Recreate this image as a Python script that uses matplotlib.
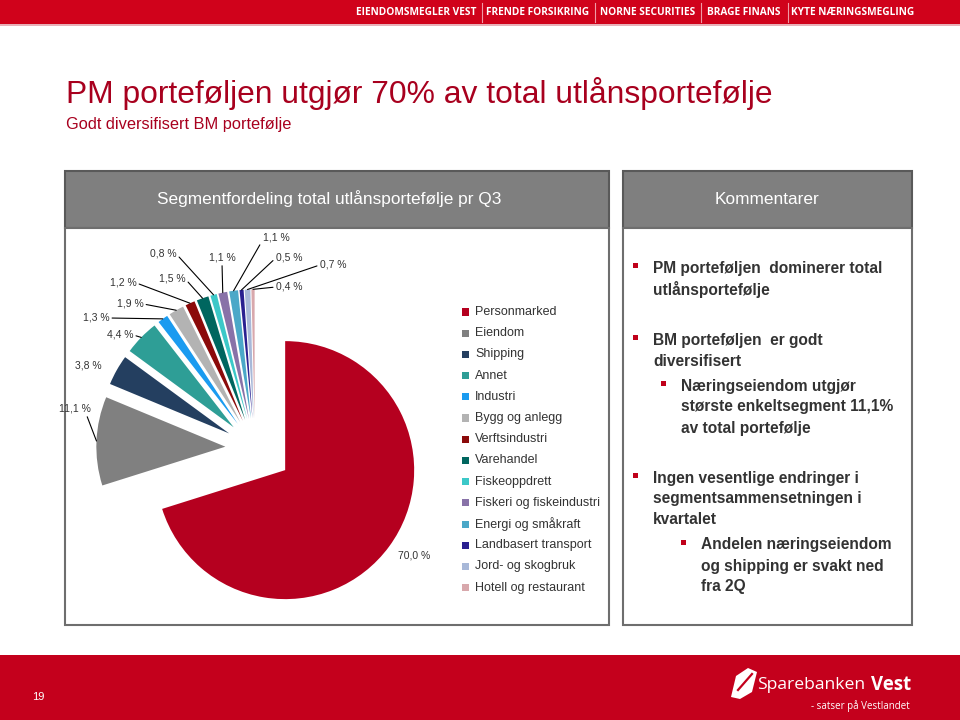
import matplotlib
matplotlib.use("Agg")
import matplotlib.pyplot as plt
from matplotlib.patches import Rectangle, Polygon
import numpy as np

# segment data (share of total loan portfolio, %)
segments = ["Personmarked", "Eiendom", "Shipping", "Annet", "Industri",
            "Bygg og anlegg", "Verftsindustri", "Varehandel", "Fiskeoppdrett",
            "Fiskeri og fiskeindustri", "Energi og småkraft",
            "Landbasert transport", "Jord- og skogbruk", "Hotell og restaurant"]
shares = [70.0, 11.1, 3.8, 4.4, 1.3, 1.9, 1.2, 1.5, 0.8, 1.1, 1.1, 0.5, 0.7, 0.4]
colors = ["#B5001F", "#808080", "#243F60", "#2E9E96", "#1A9BF0", "#B3B3B3",
          "#8B0A0A", "#00665F", "#3CC8C8", "#8872A8", "#4BA8C8", "#2A2090",
          "#A8B8D8", "#D8A8AC"]

banner_items = ["EIENDOMSMEGLER VEST", "FRENDE FORSIKRING", "NORNE SECURITIES",
                "BRAGE FINANS", "KYTE NÆRINGSMEGLING"]

title = "PM porteføljen utgjør 70% av total utlånsportefølje"
subtitle = "Godt diversifisert BM portefølje"
chart_header = "Segmentfordeling total utlånsportefølje pr Q3"
comment_header = "Kommentarer"

# comment bullets: (indent level, lines)
comments = [
    (0, ["PM porteføljen  dominerer total", "utlånsportefølje"]),
    (0, ["BM porteføljen  er godt", "diversifisert"]),
    (1, ["Næringseiendom utgjør", "største enkeltsegment 11,1%", "av total portefølje"]),
    (0, ["Ingen vesentlige endringer i", "segmentsammensetningen i", "kvartalet"]),
    (2, ["Andelen næringseiendom", "og shipping er svakt ned", "fra 2Q"]),
]

W, H = 960, 720
RED = "#D0021B"
TITLE_RED = "#A8001E"
TXT = "#333333"

fig = plt.figure(figsize=(9.6, 7.2), dpi=100)
fig.patch.set_facecolor("white")


def fx(x):
    return x / W


def fy(y):
    return 1 - y / H


def box(x0, y0, x1, y1, **kw):
    r = Rectangle((fx(x0), fy(y1)), fx(x1) - fx(x0), fy(y0) - fy(y1),
                  transform=fig.transFigure, **kw)
    fig.add_artist(r)
    return r


# top banner
box(0, 0, 960, 24, facecolor=RED, edgecolor="none", zorder=-5)
box(0, 24, 960, 26, facecolor="#E8B0B8", edgecolor="none", zorder=-5)
banner_x = [358, 488, 601, 707, 794]
banner_w = [117, 100, 94, 74, 118]
for i, item in enumerate(banner_items):
    fig.text(fx(banner_x[i] + banner_w[i] / 2), fy(12.5), item, color="white",
             fontsize=7.3, fontweight="bold", family="Open Sans",
             ha="center", va="center")
    if i > 0:
        xs = (banner_x[i] + banner_x[i - 1] + banner_w[i - 1]) / 2
        fig.add_artist(plt.Line2D([fx(xs), fx(xs)], [fy(3), fy(22)],
                                  transform=fig.transFigure, color="#F09AA6", lw=0.8))

# titles
fig.text(fx(66), fy(93), title, color=TITLE_RED, fontsize=22.9,
         family="Liberation Sans", ha="left", va="center")
fig.text(fx(66), fy(125), subtitle, color=TITLE_RED, fontsize=11.8,
         family="Liberation Sans", ha="left", va="center")

# panels
box(65, 171, 609, 228, facecolor="#7F7F7F", edgecolor="#595959", lw=1.5, zorder=-4)
box(623, 171, 912, 228, facecolor="#7F7F7F", edgecolor="#595959", lw=1.5, zorder=-4)
box(65, 228, 609, 625, facecolor="white", edgecolor="#6E6E6E", lw=1.5, zorder=-4)
box(623, 228, 912, 625, facecolor="white", edgecolor="#6E6E6E", lw=1.5, zorder=-4)
fig.text(fx(329), fy(199), chart_header, color="white", fontsize=12.4,
         family="Liberation Sans", ha="center", va="center")
fig.text(fx(767), fy(199), comment_header, color="white", fontsize=12.4,
         family="Liberation Sans", ha="center", va="center")

# pie
cx, cy, rpx, lim = 255, 448, 129, 1.7
half = rpx * lim
ax = fig.add_axes([fx(cx - half), fy(cy + half), 2 * half / W, 2 * half / H])
explode = [0.29] + [0.23] * (len(shares) - 1)
wedges, _ = ax.pie(shares, colors=colors, startangle=90, counterclock=False,
                   explode=explode, radius=1.0, wedgeprops=dict(linewidth=0))
ax.set_xlim(-lim, lim)
ax.set_ylim(-lim, lim)
ax.set_aspect("equal")
ax.axis("off")

# label layout: pixel position of label centre and where the leader leaves the text
label_px = [(414, 555), (75, 409), (88, 366), (120, 335), (96, 318), (130, 304),
            (123, 283), (172, 279), (163, 254), (222, 258), (276, 238),
            (289, 258), (333, 265), (289, 287)]
label_rel = [None, (0.85, 0.0), None, (1.0, 0.5), (1.0, 0.5), (1.0, 0.5),
             (1.0, 0.5), (1.0, 0.5), (1.0, 0.5), (0.5, 0.0), (0.0, 0.3),
             (0.0, 0.5), (0.0, 0.5), (0.0, 0.5)]
for w, val, lp, rel in zip(wedges, shares, label_px, label_rel):
    txt = f"{val:.1f} %".replace(".", ",")
    lx, ly = (lp[0] - cx) / rpx, (cy - lp[1]) / rpx
    if rel is None:
        ax.text(lx, ly, txt, fontsize=7.5, color=TXT, family="Liberation Sans",
                ha="center", va="center")
        continue
    ang = np.deg2rad((w.theta1 + w.theta2) / 2)
    tx = w.center[0] + w.r * np.cos(ang)
    ty = w.center[1] + w.r * np.sin(ang)
    ax.annotate(txt, xy=(tx, ty), xytext=(lx, ly), fontsize=7.5, color=TXT,
                family="Liberation Sans", ha="center", va="center",
                arrowprops=dict(arrowstyle="-", color="black", lw=0.8,
                                shrinkA=0, shrinkB=0, relpos=rel))

# legend
for i, (name, c) in enumerate(zip(segments, colors)):
    y = 312 + 21.2 * i
    box(462, y - 3.5, 469, y + 3.5, facecolor=c, edgecolor="none")
    fig.text(fx(475), fy(y), name, color=TXT, fontsize=9,
             family="Liberation Sans", ha="left", va="center")

# comments
bullet_x = [635, 663, 683]
text_x = [653, 681, 701]
starts = [268, 340, 386, 478, 545]
for (lvl, lines), y0 in zip(comments, starts):
    box(bullet_x[lvl] - 2.5, y0 - 5, bullet_x[lvl] + 2.5, y0, facecolor="#C0001A",
        edgecolor="none")
    for k, line in enumerate(lines):
        fig.text(fx(text_x[lvl]), fy(y0 + 21 * k), line, color=TXT, fontsize=11.2,
                 fontweight="bold", family="Liberation Sans", ha="left", va="center")

# footer
box(0, 655, 960, 720, facecolor="#C4001C", edgecolor="none", zorder=-5)
fig.text(fx(38), fy(697), "19", color="white", fontsize=8,
         family="Liberation Sans", ha="center", va="center")
fig.add_artist(Polygon([(fx(731), fy(697)), (fx(736), fy(676)), (fx(748), fy(668)),
                        (fx(757), fy(672)), (fx(752), fy(692)), (fx(740), fy(699))],
                       closed=True, transform=fig.transFigure, facecolor="white",
                       edgecolor="none"))
fig.add_artist(plt.Line2D([fx(738), fx(752)], [fy(690), fy(674)],
                          transform=fig.transFigure, color="#C4001C", lw=1.6))
fig.text(fx(757), fy(685), "Sparebanken", color="white", fontsize=12.6,
         family="Open Sans", ha="left", va="center")
fig.text(fx(911), fy(685), "Vest", color="white", fontsize=13.4, fontweight="bold",
         family="Open Sans", ha="right", va="center")
fig.text(fx(910), fy(706), "- satser på Vestlandet", color="white", fontsize=7,
         family="Open Sans", ha="right", va="center")

fig.savefig("out.png", dpi=100)
